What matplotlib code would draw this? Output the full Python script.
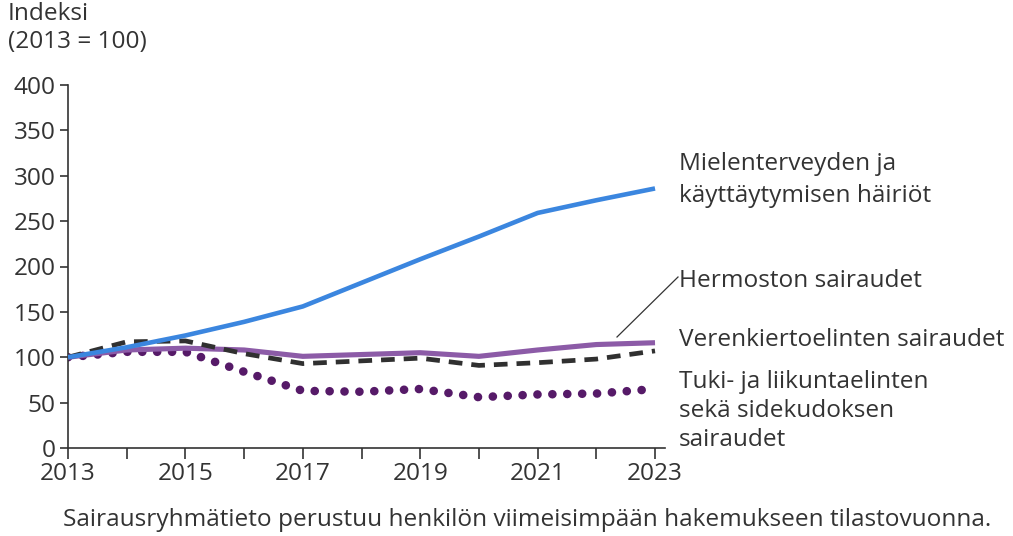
import matplotlib.pyplot as plt

plt.rcParams['font.family'] = ['Open Sans', 'DejaVu Sans']

years = list(range(2013, 2024))
mental = [100, 111, 124, 139, 156, 182, 208, 233, 259, 273, 286]
nerves = [100, 108, 110, 108, 101, 103, 105, 101, 108, 114, 116]
circulation = [100, 117, 118, 104, 93, 96, 99, 91, 94, 98, 107]
musculo = [100, 106, 106, 84, 63, 62, 65, 56, 59, 60, 65]

yticks = [0, 50, 100, 150, 200, 250, 300, 350, 400]
xticks = list(range(2013, 2024))
xlabels = [str(y) if y % 2 == 1 else '' for y in xticks]

txt = '#333333'
fs = 17.6

fig = plt.figure(figsize=(10.13, 5.36), dpi=100)
ax = fig.add_axes([68 / 1013, 1 - 448 / 536, 597 / 1013, 363 / 536])

ax.plot(years, musculo, color='#561a68', lw=6.2, linestyle=(0, (0.01, 1.72)),
        dash_capstyle='round', zorder=2)
ax.plot(years, nerves, color='#8c5ba7', lw=3.7, zorder=3, solid_capstyle='butt')
ax.plot(years, circulation, color='#303030', lw=3.4, linestyle=(0, (2.9, 1.9)),
        zorder=4)
ax.plot(years, mental, color='#3b86df', lw=3.3, zorder=5, solid_capstyle='butt')

ax.set_xlim(2013, 2023.17)
ax.set_ylim(0, 400)
ax.set_yticks(yticks)
ax.set_xticks(xticks)
ax.set_xticklabels(xlabels)
for s in ['top', 'right']:
    ax.spines[s].set_visible(False)
for s in ['left', 'bottom']:
    ax.spines[s].set_color(txt)
    ax.spines[s].set_linewidth(1.2)
ax.tick_params(axis='y', length=6, width=1.2, color=txt, labelcolor=txt,
               labelsize=fs, pad=3)
ax.tick_params(axis='x', length=8, width=1.2, color=txt, labelcolor=txt,
               labelsize=fs, pad=2)

fig.text(8 / 1013, 1 - 2 / 536, 'Indeksi\n(2013 = 100)', ha='left', va='top',
         fontsize=fs, color=txt, linespacing=1.2)

lx = 679 / 1013
ax_lab = [
    ('Mielenterveyden ja\nkäyttäytymisen häiriöt', 180, 1.4),
    ('Hermoston sairaudet', 281, 1.25),
    ('Verenkiertoelinten sairaudet', 340, 1.25),
    ('Tuki- ja liikuntaelinten\nsekä sidekudoksen\nsairaudet', 411, 1.28),
]
for label, ypx, ls in ax_lab:
    fig.text(lx, 1 - ypx / 536, label, ha='left', va='center', fontsize=fs,
             color=txt, linespacing=ls)

fig.add_artist(plt.Line2D([617 / 1013, 678 / 1013], [1 - 337 / 536, 1 - 277 / 536],
                          color=txt, lw=0.9))

fig.text(527 / 1013, 1 - 520 / 536,
         'Sairausryhmätieto perustuu henkilön viimeisimpään hakemukseen tilastovuonna.',
         ha='center', va='center', fontsize=fs, color=txt)

fig.savefig('out.png', dpi=100)
